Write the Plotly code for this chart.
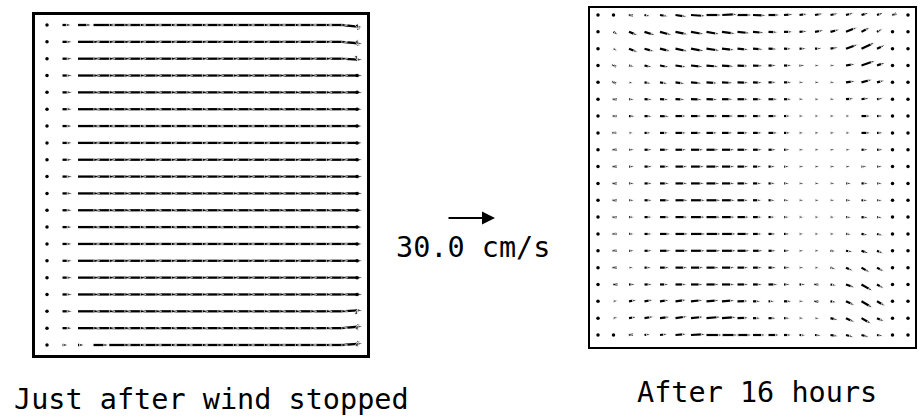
import math
import plotly.graph_objects as go

W, H = 922, 417

LEFT_TITLE = "Just after wind stopped"
RIGHT_TITLE = "After 16 hours"
KEY_LABEL = "30.0 cm/s"
KEY_SPEED = 30.0          # cm/s
KEY_LEN_PX = 48.0         # drawn length of the key arrow

# ---------------- left panel: speeds (cm/s) and directions (deg from east) ----
# rows listed top (north) -> bottom (south), columns west -> east (21 columns)
LEFT_SPEED = [
    [0, 6, 9] + [13.5] * 17 + [3],
    [0, 6.5] + [13.5] * 18 + [2.5],
    [0, 6.5] + [13.5] * 18 + [1.5],
    [0, 6.5] + [13.5] * 18 + [0],
    [0, 6.5] + [13.5] * 18 + [0],
    [0, 6.5] + [13.5] * 18 + [0],
    [0, 6.5] + [13.5] * 18 + [0],
    [0, 6.5] + [13.5] * 18 + [0],
    [0, 6.5] + [13.5] * 18 + [0],
    [0, 6.5] + [13.5] * 18 + [0],
    [0, 6.5] + [13.5] * 18 + [0],
    [0, 6.5] + [13.5] * 18 + [0],
    [0, 6.5] + [13.5] * 18 + [0],
    [0, 6.5] + [13.5] * 18 + [0],
    [0, 6.5] + [13.5] * 18 + [0],
    [0, 6.5] + [13.5] * 18 + [0],
    [0, 6.5] + [13.5] * 18 + [0],
    [0, 6.5] + [13.5] * 18 + [1.5],
    [0, 6.5] + [13.5] * 18 + [2.5],
    [0, 4, 4.5, 10] + [13.5] * 16 + [2.5],
]
LEFT_EAST_ANGLE = [-6, -5, -3, 0, 0, 0, 0, 0, 0, 0, 0, 0, 0, 0, 0, 0, 0, 3, 5, 4]
LEFT_WALL_ANGLE = [-70, -70, -70, 0, 0, 0, 0, 0, 0, 0, 0, 0, 0, 0, 0, 0, 0, 70, 70, 70]

# ---------------- right panel (after 16 hours) ----------------
RIGHT_SPEED = [
    [0, 0.6, 2.5, 4.2, 5.5, 7.5, 9.5, 10, 10, 9.5, 8.5, 7.5, 6, 5.5, 5.5, 5.2, 5.2, 5.2, 4.6, 2.5, 0],
    [0, 3.7, 6.2, 7.3, 7.9, 8.3, 8.7, 8.7, 8.7, 8.3, 7.3, 6.2, 5.8, 5.2, 5.8, 6.2, 7.9, 6.2, 4.2, 1, 0],
    [0, 3.1, 6.2, 6.7, 7.3, 8.3, 8.7, 8.7, 8.3, 7.3, 6.7, 5.8, 5.2, 4.6, 4.6, 5.2, 8.3, 9.4, 5.8, 1, 0],
    [0, 1.7, 3.7, 5.2, 6.2, 7.3, 7.9, 7.9, 7.9, 7.3, 6.7, 5.2, 5.2, 3.7, 3.1, 3.1, 6.2, 9.4, 5.8, 1, 0],
    [0, 1.7, 3.1, 4.6, 5.2, 6.2, 7.3, 7.3, 7.3, 7.3, 6.2, 5.2, 5.2, 3.1, 3.1, 3.1, 6.2, 7.3, 5.2, 1, 0],
    [0, 2.1, 3.7, 5.2, 5.8, 6.2, 7.3, 7.3, 7.3, 7.3, 6.2, 6.2, 5.2, 3.1, 3.1, 3.1, 5.2, 5.2, 4.2, 1, 0],
    [0, 2.1, 4.2, 5.2, 6.2, 7.3, 7.3, 7.9, 7.9, 7.3, 6.2, 6.2, 4.6, 3.1, 3.1, 3.1, 3.1, 6.2, 4.2, 1, 0],
    [0, 1.7, 3.1, 4.6, 5.8, 7.3, 7.3, 7.3, 7.3, 7.3, 6.2, 6.2, 4.6, 3.1, 3.1, 3.1, 3.1, 6.2, 4.2, 1, 0],
    [0, 2, 3.7, 5.2, 6.2, 7.3, 8.3, 8.3, 8.3, 7.3, 6.2, 5.2, 4.2, 3.1, 3.1, 3.1, 3.1, 4.6, 4.2, 1, 0],
    [0, 2, 3.7, 5.2, 6.2, 7.9, 8.7, 8.7, 8.3, 7.3, 5.8, 4.6, 3.7, 3.1, 3.1, 3.1, 3.1, 3.7, 3.7, 1, 0],
    [0, 2, 3.7, 5.2, 6.2, 7.9, 8.7, 8.7, 8.3, 7.3, 5.8, 4.6, 3.7, 3.1, 3.1, 3.1, 3.7, 4.6, 3.7, 1, 0],
    [0, 2, 3.7, 5.2, 6.7, 8.3, 9.4, 9.4, 8.7, 7.3, 5.8, 4.6, 3.7, 3.1, 3.1, 3.1, 3.7, 4.2, 3.7, 1, 0],
    [0, 2, 3.7, 5.2, 6.7, 8.3, 9.4, 9.4, 8.7, 7.9, 6.2, 4.6, 3.7, 3.1, 3.1, 3.1, 3.7, 4.6, 3.7, 1, 0],
    [0, 2, 3.7, 5.2, 7.3, 8.7, 9.8, 9.8, 9.4, 8.3, 6.2, 5.2, 4.2, 3.1, 3.1, 3.1, 3.7, 4.6, 4.2, 1, 0],
    [0, 2, 3.7, 5.2, 7.3, 8.7, 9.4, 9.4, 9.4, 8.3, 6.7, 5.2, 4.2, 3.1, 3.1, 3.7, 4.6, 5.2, 4.6, 1, 0],
    [0, 2, 3.1, 4.6, 6.2, 7.9, 8.3, 8.3, 8.3, 7.3, 6.2, 5.2, 4.2, 3.1, 3.1, 3.7, 5.2, 6.2, 5.2, 1, 0],
    [0, 2.5, 4.2, 5.2, 5.8, 7.3, 7.9, 8.3, 8.3, 7.3, 6.2, 6.2, 4.2, 4.2, 2.1, 4.2, 6.2, 8.3, 5.2, 0.6, 0],
    [0, 3.1, 5.2, 5.8, 6.2, 7.3, 7.9, 8.3, 8.3, 7.3, 5.2, 4.2, 5.2, 3.1, 2.1, 4.2, 6.2, 8.3, 6.2, 0.6, 0],
    [0, 3.1, 5.2, 6.2, 6.7, 7.9, 8.3, 9.4, 9.4, 7.3, 5.2, 5.2, 4.2, 3.1, 3.1, 5.2, 6.2, 7.3, 5.2, 0.6, 0],
    [0, 1, 2.5, 4.2, 5.2, 7.3, 9.4, 10.4, 10.4, 9.4, 8.3, 7.3, 5.2, 4.2, 4.2, 5.2, 5.2, 5.2, 4.2, 0.6, 0],
]
RIGHT_ANGLE = [
    [0, 0, -5, -12, -10, -8, -4, 0, 3, 0, -2, 0, 5, 8, 10, 12, 15, 18, 20, 20, 0],
    [0, -35, -22, -18, -15, -12, -10, -10, -8, -6, -5, -3, 0, 5, 10, 15, 22, 28, 30, 30, 0],
    [0, -35, -22, -16, -14, -12, -10, -8, -6, -5, -4, -3, -2, 0, 3, 10, 20, 25, 25, 20, 0],
    [0, -20, -12, -12, -10, -8, -6, -5, -4, -3, -2, 0, 0, 0, 0, 3, 10, 20, 20, 15, 0],
    [0, -25, -12, -10, -10, -8, -5, -4, -3, -2, -2, 0, 0, 0, 0, 2, 8, 15, 15, 10, 0],
    [0, 0, -3, -3, -3, -2, -2, -2, 0, 0, 0, 0, 0, 0, 0, 0, 5, 8, 10, 5, 0],
    [0, 0, -2, -2, -2, 0, 0, 0, 0, 0, 0, 0, 0, 0, 0, 0, 0, 0, 0, 0, 0],
    [0, 0, 0, 0, 0, 0, 0, 0, 0, 0, 0, 0, 0, 0, 0, 0, 0, 0, 0, 0, 0],
    [0, 0, 0, 0, 0, 0, 0, 0, 0, 0, 0, 0, 0, 0, 0, 0, 0, 0, 0, 0, 0],
    [0, 0, 0, 0, 0, 0, 0, 0, 0, 0, 0, 0, 0, 0, 0, 0, 0, 0, 0, 0, 0],
    [0, 0, 0, 0, 0, 0, 0, 0, 0, 0, 0, 0, 0, 0, 0, 0, 0, 0, 0, 0, 0],
    [0, 0, 0, 0, 0, 0, 0, 0, 0, 0, 0, 0, 0, 0, 0, 0, 0, -3, -5, 0, 0],
    [0, 0, 0, 0, 0, 0, 0, 0, 0, 0, 0, 0, 0, 0, 0, 0, -3, -5, -8, 0, 0],
    [0, 0, 0, 0, 0, 0, 0, 0, 0, 0, 0, 0, 0, 0, 0, 0, -5, -10, -15, -15, 0],
    [0, 0, 0, 0, 0, 0, 0, 0, 0, 0, 0, 0, 0, 0, 0, -5, -10, -20, -25, -25, 0],
    [0, 0, 0, 0, 0, 0, 0, 0, 0, 0, 0, 0, 0, 0, -5, -15, -25, -30, -30, -20, 0],
    [0, 0, 0, 0, 0, 0, 0, 0, 0, 0, 0, 0, 0, 0, -5, -10, -20, -30, -30, -20, 0],
    [0, 10, 10, 10, 8, 8, 6, 5, 4, 2, 0, 0, 0, 0, -5, -10, -25, -30, -30, -20, 0],
    [0, 10, 10, 10, 8, 8, 6, 5, 4, 2, 0, 0, 0, 0, -5, -15, -25, -30, -25, -20, 0],
    [0, 0, 5, 10, 8, 5, 3, 0, 0, 0, 0, 0, 0, -3, -5, -10, -15, -15, -10, 0, 0],
]

N_ROWS = len(RIGHT_SPEED)
N_COLS = len(RIGHT_SPEED[0])
PX_PER_CMS = KEY_LEN_PX / KEY_SPEED

# panel boxes in page pixels (left, top, right, bottom) and axis ranges (grid units)
PANELS = {
    "left": dict(box=(35, 15, 367, 355), xr=(-0.774, 20.645), yr=(-0.594, 19.594)),
    "right": dict(box=(590, 8, 915, 347), xr=(-0.516, 20.452), yr=(-0.7125, 19.416)),
}


def left_angles():
    out = []
    for r in range(N_ROWS):
        row = [0.0] * N_COLS
        row[N_COLS - 2] = LEFT_EAST_ANGLE[r]
        row[N_COLS - 1] = LEFT_WALL_ANGLE[r]
        out.append(row)
    return out


def vector_traces(speed, angle, panel, xa, ya, width, head):
    x0, y0, x1, y1 = panel["box"]
    px_x = (x1 - x0) / (panel["xr"][1] - panel["xr"][0])
    px_y = (y1 - y0) / (panel["yr"][1] - panel["yr"][0])
    lx, ly, sizes = [], [], []
    dx_, dy_ = [], []
    for r in range(N_ROWS):
        j = N_ROWS - 1 - r
        for i in range(N_COLS):
            s = speed[r][i]
            a = math.radians(angle[r][i])
            if s < 1.2:
                dx_.append(i)
                dy_.append(j)
                continue
            u, v = s * math.cos(a), s * math.sin(a)
            lx += [i, i + u * PX_PER_CMS / px_x, None]
            ly += [j, j + v * PX_PER_CMS / px_y, None]
            sizes += [0, head, 0]
    seg = go.Scatter(
        x=lx, y=ly, mode="lines+markers", xaxis=xa, yaxis=ya,
        line=dict(color="black", width=width),
        marker=dict(symbol="arrow", size=sizes, angleref="previous", color="black"),
        hoverinfo="skip", showlegend=False,
    )
    dots = go.Scatter(
        x=dx_, y=dy_, mode="markers", xaxis=xa, yaxis=ya,
        marker=dict(symbol="circle", size=3.5, color="black"),
        hoverinfo="skip", showlegend=False,
    )
    return [seg, dots]


fig = go.Figure()
for t in vector_traces(LEFT_SPEED, left_angles(), PANELS["left"], "x", "y", 2.3, 6):
    fig.add_trace(t)
for t in vector_traces(RIGHT_SPEED, RIGHT_ANGLE, PANELS["right"], "x2", "y2", 2.2, 5):
    fig.add_trace(t)


def axis_cfg(panel, horizontal, lw):
    x0, y0, x1, y1 = panel["box"]
    if horizontal:
        dom = [x0 / W, x1 / W]
        rng = list(panel["xr"])
    else:
        dom = [1 - y1 / H, 1 - y0 / H]
        rng = list(panel["yr"])
    return dict(domain=dom, range=rng, showline=True, mirror=True, linecolor="black",
                linewidth=lw, showgrid=False, zeroline=False, showticklabels=False,
                ticks="", fixedrange=True)


fig.update_layout(
    width=W, height=H, margin=dict(l=0, r=0, t=0, b=0),
    paper_bgcolor="white", plot_bgcolor="white",
    xaxis=dict(axis_cfg(PANELS["left"], True, 2.5), anchor="y"),
    yaxis=dict(axis_cfg(PANELS["left"], False, 2.5), anchor="x"),
    xaxis2=dict(axis_cfg(PANELS["right"], True, 2.2), anchor="y2"),
    yaxis2=dict(axis_cfg(PANELS["right"], False, 2.2), anchor="x2"),
    showlegend=False,
)

FONT = dict(family="DejaVu Sans Mono", size=28.5, color="black")
fig.add_annotation(text=LEFT_TITLE, x=211 / W, y=1 - 399 / H, xref="paper", yref="paper",
                   showarrow=False, font=FONT, xanchor="center", yanchor="middle")
fig.add_annotation(text=RIGHT_TITLE, x=757 / W, y=1 - 392 / H, xref="paper", yref="paper",
                   showarrow=False, font=FONT, xanchor="center", yanchor="middle")
fig.add_annotation(text=KEY_LABEL, x=473 / W, y=1 - 247 / H, xref="paper", yref="paper",
                   showarrow=False, font=FONT, xanchor="center", yanchor="middle")
# key arrow: 30 cm/s drawn with the same px-per-cm/s scale as the vectors
fig.add_annotation(text="", x=(447 + KEY_SPEED * PX_PER_CMS) / W, y=1 - 218 / H,
                   xref="paper", yref="paper", showarrow=True,
                   ax=-KEY_SPEED * PX_PER_CMS, ay=0, arrowhead=2, arrowsize=1.3,
                   arrowwidth=2, arrowcolor="black")

fig.write_html("out.html")
